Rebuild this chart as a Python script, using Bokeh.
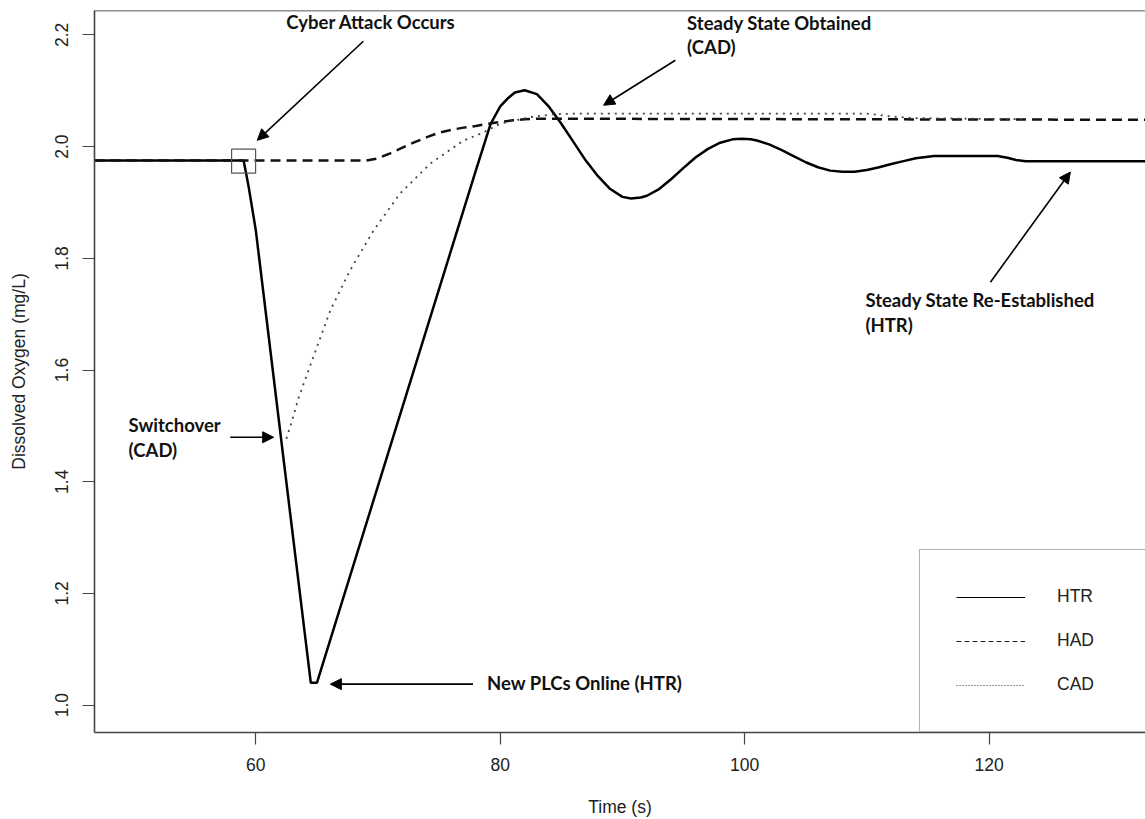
from bokeh.plotting import figure
from bokeh.models import (Range1d, Label, Arrow, NormalHead, Legend, LegendItem,
                          Span, FixedTicker)
from bokeh.embed import file_html
from bokeh.resources import INLINE

NAN = float("nan")

# ---------------- data ----------------
htr_t = [46.8, 59.0, 59.4, 60.0, 62.3, 64.5, 65.0, 78.0, 79.2, 80.0,
         80.6, 81.2, 82.0, 83.0, 84.0, 85.0, 86.0, 87.0, 88.0, 89.0, 90.0, 90.7,
         91.5, 92.0, 93.0, 94.0, 95.0, 96.0, 97.0, 98.0, 99.0, 99.8, 100.5, 101.0,
         102.0, 103.0, 104.0, 105.0, 106.0, 107.0, 108.0, 109.0, 110.0, 111.0,
         112.0, 113.0, 114.0, 115.0, 115.5, 120.7, 121.5, 122.2, 123.0, 132.8]
htr_do = [1.975, 1.975, 1.930, 1.850, 1.435, 1.040, 1.040, 1.957,
          2.040, 2.072, 2.086, 2.097, 2.101, 2.094, 2.071, 2.041, 2.008, 1.975,
          1.947, 1.924, 1.910, 1.907, 1.909, 1.912, 1.924, 1.942, 1.962, 1.981,
          1.996, 2.007, 2.013, 2.014, 2.013, 2.011, 2.004, 1.994, 1.983, 1.972,
          1.963, 1.957, 1.955, 1.955, 1.958, 1.963, 1.969, 1.974, 1.979, 1.982,
          1.983, 1.983, 1.980, 1.976, 1.974, 1.974]

had_t = [46.8, 69.0, 70.0, 71.0, 72.0, 73.0, 74.0, 75.0, 76.0, 77.0, 78.0, 79.0,
         80.0, 81.0, 82.0, 83.0, 132.8]
had_do = [1.975, 1.975, 1.979, 1.988, 1.998, 2.008, 2.017, 2.025, 2.030, 2.034,
          2.037, 2.041, 2.044, 2.047, 2.049, 2.050, 2.048]

cad_t = [62.5, 62.96, 63.5, 64.6, 66.1, 67.7, 69.64, 71.8, 74.3, 77.0, 78.4, 80.0,
         82.5, 84.4, 86.0, 110.0, 112.0, 114.0, 122.7]
cad_do = [1.477, 1.509, 1.550, 1.617, 1.707, 1.778, 1.850, 1.916, 1.970, 2.011,
          2.023, 2.041, 2.053, 2.058, 2.059, 2.059, 2.054, 2.051, 2.049]

series_names = ["HTR", "HAD", "CAD"]
x_ticks = [60, 80, 100, 120]
x_tick_labels = ["60", "80", "100", "120"]
y_ticks = [1.0, 1.2, 1.4, 1.6, 1.8, 2.0, 2.2]
y_tick_labels = ["1.0", "1.2", "1.4", "1.6", "1.8", "2.0", "2.2"]

attack_point = (59.0, 1.974)

# annotation texts: (x, y baseline, text)
notes = [
    (62.50, 2.2230, "Cyber Attack Occurs"),
    (95.29, 2.2220, "Steady State Obtained"),
    (95.29, 2.1790, "(CAD)"),
    (109.88, 1.7250, "Steady State Re-Established"),
    (109.88, 1.6812, "(HTR)"),
    (49.59, 1.5010, "Switchover"),
    (49.59, 1.4572, "(CAD)"),
    (78.92, 1.0390, "New PLCs Online (HTR)"),
]
# arrows: (x_start, y_start, x_end, y_end)
arrows = [
    (68.80, 2.1887, 60.12, 2.0113),
    (94.33, 2.1547, 88.46, 2.0740),
    (120.11, 1.7573, 126.65, 1.9545),
    (57.91, 1.4796, 61.46, 1.4796),
    (77.77, 1.0376, 66.10, 1.0376),
]

# ---------------- figure ----------------
X0, X1 = 46.8, 132.8
Y0, Y1 = 0.951, 2.2437

p = figure(width=1145, height=819, x_range=Range1d(X0, X1), y_range=Range1d(Y0, Y1),
           output_backend="svg", toolbar_location=None,
           min_border_left=94, min_border_right=0, min_border_top=10,
           min_border_bottom=87)
p.background_fill_color = "white"
p.border_fill_color = "white"
p.outline_line_color = None
p.grid.visible = False

TICK_FONT = "Liberation Sans"
for ax in (p.xaxis[0], p.yaxis[0]):
    ax.axis_line_color = "#444444"
    ax.axis_line_width = 1.6
    ax.major_tick_line_color = "#444444"
    ax.major_tick_line_width = 1.2
    ax.major_tick_out = 12
    ax.major_tick_in = 0
    ax.minor_tick_line_color = None
    ax.major_label_text_font = TICK_FONT
    ax.major_label_text_font_size = "17.5px"
    ax.major_label_text_color = "#222222"
    ax.axis_label_text_font = TICK_FONT
    ax.axis_label_text_font_size = "17.5px"
    ax.axis_label_text_font_style = "normal"
    ax.axis_label_text_color = "#222222"

p.xaxis.ticker = FixedTicker(ticks=x_ticks)
p.xaxis.major_label_overrides = dict(zip(x_ticks, x_tick_labels))
p.yaxis.ticker = FixedTicker(ticks=y_ticks)
p.yaxis.major_label_overrides = dict(zip(y_ticks, y_tick_labels))
p.yaxis.major_label_orientation = "vertical"
p.xaxis.axis_label = "Time (s)"
p.yaxis.axis_label = "Dissolved Oxygen (mg/L)"
p.xaxis.major_label_standoff = 13
p.xaxis.axis_label_standoff = 23
p.yaxis.major_label_standoff = 14
p.yaxis.axis_label_standoff = 24

# top border of the frame
p.add_layout(Span(location=Y1, dimension="width", line_color="#222222", line_width=1.4))

# ---------------- series ----------------
p.line(htr_t, htr_do, line_color="black", line_width=2.5)
p.line(had_t, had_do, line_color="#111111", line_width=2.5, line_dash="10 6")
p.line(cad_t, cad_do, line_color="#444444", line_width=1.8, line_dash="2 5")

# attack marker
p.scatter([attack_point[0]], [attack_point[1]], marker="square", size=24,
          fill_color=None, line_color="#555555", line_width=1.2)

# ---------------- annotations ----------------
for (x, y, t) in notes:
    p.add_layout(Label(x=x, y=y, text=t, text_font="Lato", text_font_style="bold",
                       text_font_size="18.5px", text_color="#111111",
                       text_baseline="alphabetic", text_align="left"))
for (xs, ys, xe, ye) in arrows:
    p.add_layout(Arrow(x_start=xs, y_start=ys, x_end=xe, y_end=ye,
                       line_color="black", line_width=1.6,
                       end=NormalHead(size=11, fill_color="black", line_color="black")))

# ---------------- legend ----------------
lg1 = p.line([NAN], [NAN], line_color="black", line_width=1.2)
lg2 = p.line([NAN], [NAN], line_color="#222222", line_width=1.0, line_dash="5 3")
lg3 = p.line([NAN], [NAN], line_color="#333333", line_width=1.2, line_dash="1 2")
legend = Legend(items=[LegendItem(label=series_names[0], renderers=[lg1]),
                       LegendItem(label=series_names[1], renderers=[lg2]),
                       LegendItem(label=series_names[2], renderers=[lg3])],
                location=(825, 0), orientation="vertical",
                glyph_width=69, glyph_height=20, label_standoff=32,
                label_width=220, label_height=20, spacing=23, padding=36, margin=0,
                border_line_color="#666666", border_line_width=1.6,
                background_fill_color="white", background_fill_alpha=1.0,
                label_text_font=TICK_FONT, label_text_font_size="17.5px",
                label_text_color="#222222")
p.add_layout(legend)

open("out.html", "w").write(file_html(p, INLINE))
